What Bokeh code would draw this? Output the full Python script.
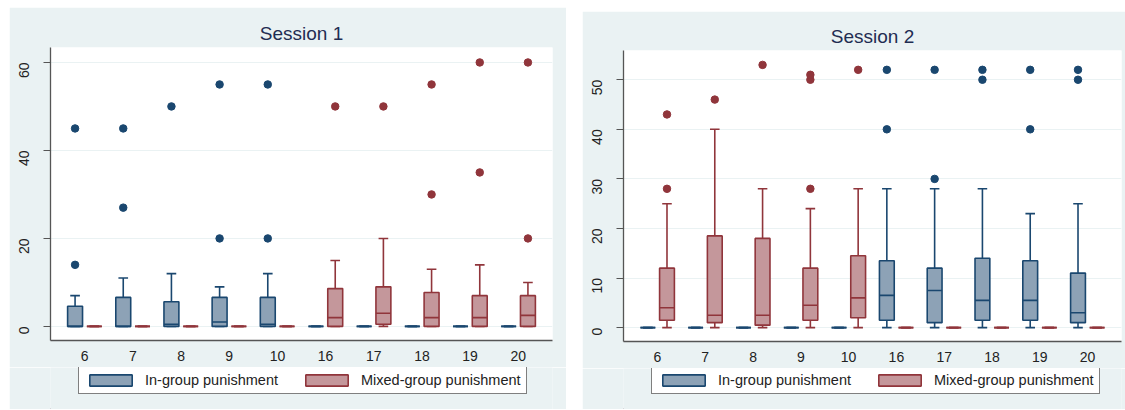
from bokeh.plotting import figure
from bokeh.models import Legend, LegendItem, FixedTicker, Spacer
from bokeh.layouts import row, column
from bokeh.embed import file_html
from bokeh.resources import INLINE

cats = ["6", "7", "8", "9", "10", "16", "17", "18", "19", "20"]

# Session 1 - In-group punishment
s1_in_q1 = [0, 0, 0, 0, 0, 0, 0, 0, 0, 0]
s1_in_med = [0, 0, 0.5, 1, 0.5, 0, 0, 0, 0, 0]
s1_in_q3 = [4.6, 6.6, 5.6, 6.6, 6.6, 0, 0, 0, 0, 0]
s1_in_lo = [0, 0, 0, 0, 0, 0, 0, 0, 0, 0]
s1_in_hi = [7, 11, 12, 9, 12, 0, 0, 0, 0, 0]
s1_in_out_cat = ["6", "6", "7", "7", "8", "9", "9", "10", "10"]
s1_in_out_val = [14, 45, 27, 45, 50, 20, 55, 20, 55]

# Session 1 - Mixed-group punishment
s1_mx_q1 = [0, 0, 0, 0, 0, 0, 0.5, 0, 0, 0]
s1_mx_med = [0, 0, 0, 0, 0, 2, 3, 2, 2, 2.5]
s1_mx_q3 = [0, 0, 0, 0, 0, 8.6, 9, 7.7, 7, 7]
s1_mx_lo = [0, 0, 0, 0, 0, 0, 0, 0, 0, 0]
s1_mx_hi = [0, 0, 0, 0, 0, 15, 20, 13, 14, 10]
s1_mx_out_cat = ["16", "17", "18", "18", "19", "19", "20", "20"]
s1_mx_out_val = [50, 50, 30, 55, 35, 60, 20, 60]

# Session 2 - In-group punishment
s2_in_q1 = [0, 0, 0, 0, 0, 1.5, 1, 1.5, 1.5, 1]
s2_in_med = [0, 0, 0, 0, 0, 6.5, 7.5, 5.5, 5.5, 3]
s2_in_q3 = [0, 0, 0, 0, 0, 13.5, 12, 14, 13.5, 11]
s2_in_lo = [0, 0, 0, 0, 0, 0, 0, 0, 0, 0]
s2_in_hi = [0, 0, 0, 0, 0, 28, 28, 28, 23, 25]
s2_in_out_cat = ["16", "16", "17", "17", "18", "18", "19", "19", "20", "20"]
s2_in_out_val = [40, 52, 30, 52, 50, 52, 40, 52, 50, 52]

# Session 2 - Mixed-group punishment
s2_mx_q1 = [1.5, 1, 0.5, 1.5, 2, 0, 0, 0, 0, 0]
s2_mx_med = [4, 2.5, 2.5, 4.5, 6, 0, 0, 0, 0, 0]
s2_mx_q3 = [12, 18.5, 18, 12, 14.5, 0, 0, 0, 0, 0]
s2_mx_lo = [0, 0, 0, 0, 0, 0, 0, 0, 0, 0]
s2_mx_hi = [25, 40, 28, 24, 28, 0, 0, 0, 0, 0]
s2_mx_out_cat = ["6", "6", "7", "8", "9", "9", "9", "10"]
s2_mx_out_val = [28, 43, 46, 53, 28, 50, 51, 52]

legend_labels = ["In-group punishment", "Mixed-group punishment"]

NAVY = "#1A476F"
NAVY_FILL = "#8DA2B6"
MAROON = "#90353B"
MAROON_FILL = "#C4979B"
BG = "#EAF2F3"
FONT = "Liberation Sans"


def draw_group(p, offset, q1, med, q3, lo, hi, out_cat, out_val, line_c, fill_c):
    idx = list(range(len(cats)))
    xs = [i + offset for i in idx]
    bw = 0.31
    cw = 0.2
    p.segment(x0=xs, y0=q3, x1=xs, y1=hi, line_color=line_c, line_width=1.6)
    p.segment(x0=xs, y0=lo, x1=xs, y1=q1, line_color=line_c, line_width=1.6)
    p.segment(x0=[x - cw / 2 for x in xs], y0=hi, x1=[x + cw / 2 for x in xs], y1=hi,
              line_color=line_c, line_width=1.6)
    p.segment(x0=[x - cw / 2 for x in xs], y0=lo, x1=[x + cw / 2 for x in xs], y1=lo,
              line_color=line_c, line_width=1.6)
    p.vbar(x=xs, width=bw, bottom=q1, top=q3, fill_color=fill_c,
           line_color=line_c, line_width=1.6)
    p.segment(x0=[x - bw / 2 for x in xs], y0=med, x1=[x + bw / 2 for x in xs], y1=med,
              line_color=line_c, line_width=1.6)
    ox = [cats.index(c) + offset for c in out_cat]
    p.scatter(x=ox, y=out_val, size=7.5, fill_color=line_c, line_color=line_c)


def make_panel(title, width, height, mbl, mbr, mbt, mbb, y0, y1, yticks, s_in, s_mx):
    p = figure(width=width, height=height, output_backend="svg", toolbar_location=None,
               x_range=(-0.71, 9.71), y_range=(y0, y1),
               min_border_left=mbl, min_border_right=mbr,
               min_border_top=mbt, min_border_bottom=mbb,
               border_fill_color=BG, background_fill_color="white",
               outline_line_color=None, title=title)
    p.title.align = "center"
    p.title.text_font = FONT
    p.title.text_font_size = "19px"
    p.title.text_font_style = "normal"
    p.title.text_color = "#1F2D52"
    p.title.standoff = 8

    p.xgrid.grid_line_color = None
    p.ygrid.grid_line_color = BG
    p.ygrid.grid_line_width = 1.2
    p.ygrid.ticker = FixedTicker(ticks=yticks)

    p.xaxis.ticker = FixedTicker(ticks=list(range(len(cats))))
    p.xaxis.major_label_overrides = {i: c for i, c in enumerate(cats)}
    p.xaxis.major_tick_out = 0
    p.xaxis.major_tick_in = 0
    p.xaxis.minor_tick_line_color = None
    p.xaxis.major_label_standoff = 10

    p.yaxis.ticker = FixedTicker(ticks=yticks)
    p.yaxis.major_tick_out = 7
    p.yaxis.major_tick_in = 0
    p.yaxis.minor_tick_line_color = None
    p.yaxis.major_label_orientation = 1.5708
    p.yaxis.major_label_standoff = 19

    for ax in (p.xaxis, p.yaxis):
        ax.axis_line_color = "#555555"
        ax.axis_line_width = 1.3
        ax.major_tick_line_color = "#555555"
        ax.major_tick_line_width = 1.2
        ax.major_label_text_font = FONT
        ax.major_label_text_font_size = "14px"
        ax.major_label_text_color = "#222222"

    draw_group(p, -0.2, *s_in, NAVY, NAVY_FILL)
    draw_group(p, 0.2, *s_mx, MAROON, MAROON_FILL)
    return p


def make_legend_fig(width, height, lx, ly):
    f = figure(width=width, height=height, output_backend="svg", toolbar_location=None,
               x_axis_type=None, y_axis_type=None, x_range=(0, 1), y_range=(0, 1),
               min_border=0, border_fill_color=BG, background_fill_color=BG,
               outline_line_color=None)
    f.grid.grid_line_color = None
    # off-screen swatches, only used to draw the legend keys
    r1 = f.vbar(x=[-10], width=0.1, bottom=[-11], top=[-10], fill_color=NAVY_FILL,
                line_color=NAVY, line_width=1.6)
    r2 = f.vbar(x=[-10], width=0.1, bottom=[-11], top=[-10], fill_color=MAROON_FILL,
                line_color=MAROON, line_width=1.6)
    legend = Legend(items=[LegendItem(label=legend_labels[0], renderers=[r1]),
                           LegendItem(label=legend_labels[1], renderers=[r2])],
                    orientation="horizontal", location=(lx, ly),
                    glyph_width=53, glyph_height=14, label_height=14,
                    label_standoff=8, spacing=22, padding=5, margin=0,
                    border_line_color="black", border_line_width=1,
                    background_fill_color="white", background_fill_alpha=1,
                    label_text_font=FONT, label_text_font_size="14.5px",
                    label_text_color="#222222")
    f.add_layout(legend)
    return f


p1 = make_panel("Session 1", 557, 360, 41, 14, 40, 27, -3.2, 63.4, [0, 20, 40, 60],
                (s1_in_q1, s1_in_med, s1_in_q3, s1_in_lo, s1_in_hi, s1_in_out_cat, s1_in_out_val),
                (s1_mx_q1, s1_mx_med, s1_mx_q3, s1_mx_lo, s1_mx_hi, s1_mx_out_cat, s1_mx_out_val))
l1 = make_legend_fig(557, 42, 28, 15)
p2 = make_panel("Session 2", 543, 357, 41, 4, 39, 27, -2.8, 55.9, [0, 10, 20, 30, 40, 50],
                (s2_in_q1, s2_in_med, s2_in_q3, s2_in_lo, s2_in_hi, s2_in_out_cat, s2_in_out_val),
                (s2_mx_q1, s2_mx_med, s2_mx_q3, s2_mx_lo, s2_mx_hi, s2_mx_out_cat, s2_mx_out_val))
l2 = make_legend_fig(543, 41, 28, 15)

layout = column(Spacer(height=7),
                row(Spacer(width=9), column(p1, l1), Spacer(width=16),
                    column(Spacer(height=4), p2, l2)))
open("out.html", "w").write(file_html(layout, INLINE))
